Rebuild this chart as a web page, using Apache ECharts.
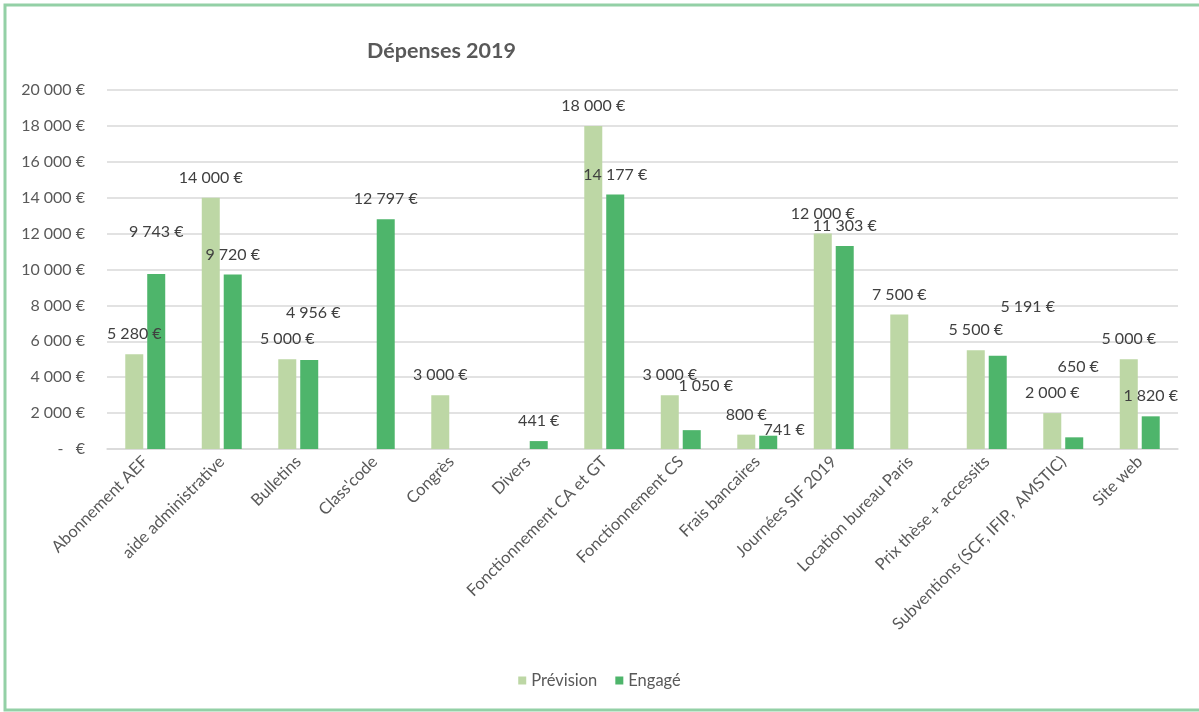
<!DOCTYPE html>
<html>
<head>
<meta charset="utf-8">
<script src="https://cdn.jsdelivr.net/npm/echarts@6/dist/echarts.min.js"></script>
<style>
html,body{margin:0;padding:0;background:#fff;}
#c{width:1199px;height:712px;}
</style>
</head>
<body>
<div id="c"></div>
<script>
const categories = ['Abonnement AEF','aide administrative','Bulletins',"Class'code",'Congrès','Divers','Fonctionnement CA et GT','Fonctionnement CS','Frais bancaires','Journées SIF 2019','Location bureau Paris','Prix thèse + accessits','Subventions (SCF, IFIP,  AMSTIC)','Site web'];
const prevision = [5280, 14000, 5000, null, 3000, null, 18000, 3000, 800, 12000, 7500, 5500, 2000, 5000];
const engage = [9743, 9720, 4956, 12797, null, 441, 14177, 1050, 741, 11303, null, 5191, 650, 1820];
const yTicks = [0, 2000, 4000, 6000, 8000, 10000, 12000, 14000, 16000, 18000, 20000];

// manual label nudges (as in the original spreadsheet), [dx, dy] per category
const engageLabelNudge = {0:[0,-22], 2:[4,-27], 7:[14,-24], 8:[16,14], 11:[30,-29], 12:[4,-50]};

function fmt(v){
  if (v === 0) return '-   €';
  return String(Math.round(v)).replace(/\B(?=(\d{3})+(?!\d))/g, ' ') + ' €';
}

const labelBase = {show:true, position:'top', distance:12, color:'#404040', fontSize:16, fontFamily:'Lato', formatter:p=>fmt(p.value)};

const chart = echarts.init(document.getElementById('c'));
chart.setOption({
  animation:false,
  backgroundColor:'#fff',
  textStyle:{fontFamily:'Lato'},
  title:{text:'Dépenses 2019', left:362, top:35, textStyle:{fontSize:21.5, fontWeight:'bold', color:'#595959', fontFamily:'Lato'}},
  graphic:[{type:'rect', shape:{x:5, y:5, width:1210, height:705}, style:{fill:'none', stroke:'#93d0a6', lineWidth:3}, silent:true}],
  legend:{bottom:18, left:'center', itemWidth:8, itemHeight:8, itemGap:18, icon:'rect', textStyle:{color:'#595959', fontSize:16.5, fontFamily:'Lato'}, data:['Prévision','Engagé']},
  grid:{left:107, right:21, top:90, bottom:263, containLabel:false},
  xAxis:{type:'category', data:categories, axisTick:{show:false},
    axisLine:{lineStyle:{color:'#d9d9d9', width:1.5}},
    axisLabel:{rotate:45, color:'#595959', fontSize:16.5, fontFamily:'Lato', margin:10, interval:0}},
  yAxis:{type:'value', min:yTicks[0], max:yTicks[yTicks.length-1], interval:2000,
    axisLine:{show:false}, axisTick:{show:false},
    splitLine:{lineStyle:{color:'#d9d9d9', width:1.5}},
    axisLabel:{color:'#595959', fontSize:16, fontFamily:'Lato', margin:22, formatter:fmt}},
  series:[
    {name:'Prévision', type:'bar', barWidth:18, barGap:'22%', itemStyle:{color:'#bdd7a5'},
      label:labelBase, data:prevision},
    {name:'Engagé', type:'bar', barWidth:18, barGap:'22%', itemStyle:{color:'#4eb56b'},
      label:labelBase,
      data:engage.map((v,i)=>{
        const n = engageLabelNudge[i];
        return n ? {value:v, label:{offset:n}} : v;
      })}
  ]
});
</script>
</body>
</html>
